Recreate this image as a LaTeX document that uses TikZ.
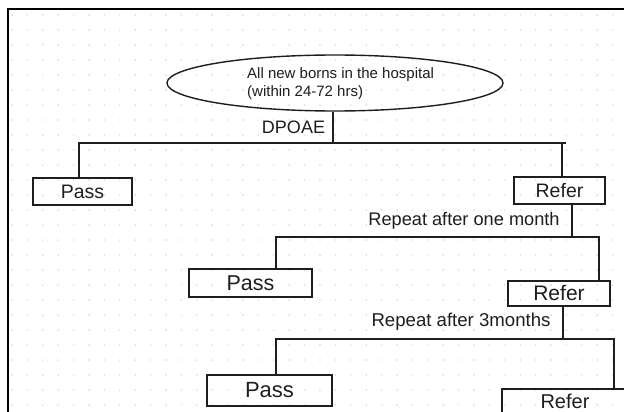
\documentclass[tikz,border=0pt]{standalone}
\usepackage{fontspec}
\setmainfont{Liberation Sans}
\usetikzlibrary{shapes.geometric}
\definecolor{dotc}{HTML}{D4D4D4}
\definecolor{inkc}{HTML}{1E1E1E}
\tikzset{
  box/.style={draw=inkc, line width=1.4pt, rectangle, inner sep=0pt, text=inkc},
  conn/.style={draw=inkc, line width=1.3pt},
  lbl/.style={inner sep=0pt, text=inkc},
}
\begin{document}
\begin{tikzpicture}[x=1pt,y=-1pt]
\useasboundingbox (0,0) rectangle (624,412);
\clip (0,0) rectangle (624,412);
\fill[white] (0,0) rectangle (624,412);
% dot grid
\foreach \i in {0,...,40}{
  \foreach \j in {0,...,26}{
    \fill[dotc] (12+15.4*\i, 15+15*\j) circle (0.8);
  }
}
% frame
\draw[line width=2pt, black] (8,420) -- (8,9) -- (630,9);

% root ellipse and its text
\node[ellipse, draw=inkc, line width=1.4pt, minimum width=336, minimum height=56, inner sep=0pt] (root) at (335,83) {};
\node[lbl, anchor=west, align=left, font=\fontsize{15}{18}\selectfont] (roottxt) at (247,84) {All new borns in the hospital\\(within 24-72 hrs)};
\node[lbl, font=\fontsize{18}{20}\selectfont] (dpoae) at (293.5,127) {DPOAE};

% level 1
\node[box, minimum width=99, minimum height=27, font=\fontsize{19.5}{20}\selectfont] (pass1) at (82.5,191.5) {Pass};
\node[box, minimum width=91, minimum height=27, font=\fontsize{19.5}{20}\selectfont] (refer1) at (559.5,190.5) {Refer};

\coordinate (s1) at (333,143);
\coordinate (h1l) at (79,143);
\coordinate (h1r) at (566,143);
\coordinate (v1r) at (562,143);
\draw[conn] (root.south -| s1) -- (s1);
\draw[conn] (h1l |- pass1.north) -- (h1l) -- (h1r);
\draw[conn] (refer1.north -| v1r) -- (v1r);

% level 2
\node[lbl, font=\fontsize{18.2}{20}\selectfont] (rep1) at (464,221) {Repeat after one month};
\node[box, minimum width=123, minimum height=28, font=\fontsize{21.5}{22}\selectfont] (pass2) at (250.5,283) {Pass};
\node[box, minimum width=102, minimum height=25, font=\fontsize{21}{22}\selectfont] (refer2) at (559,293.5) {Refer};

\coordinate (s2) at (572,237);
\coordinate (h2l) at (276,237);
\coordinate (h2r) at (599,237);
\draw[conn] (refer1.south -| s2) -- (s2);
\draw[conn] (h2l |- pass2.north) -- (h2l) -- (h2r) -- (h2r |- refer2.north);

% level 3
\node[lbl, font=\fontsize{18.6}{20}\selectfont] (rep2) at (461,322) {Repeat after 3months};
\node[box, minimum width=125, minimum height=31, font=\fontsize{22}{22}\selectfont] (pass3) at (269.5,390.5) {Pass};
\node[box, minimum width=126, minimum height=24, font=\fontsize{20}{22}\selectfont] (refer3) at (565,401) {Refer};

\coordinate (s3) at (563,339);
\coordinate (h3l) at (276,339);
\coordinate (h3r) at (615,339);
\coordinate (v3r) at (614,339);
\draw[conn] (refer2.south -| s3) -- (s3);
\draw[conn] (h3l |- pass3.north) -- (h3l) -- (h3r);
\draw[conn] (v3r) -- (v3r |- refer3.north);
\end{tikzpicture}
\end{document}
